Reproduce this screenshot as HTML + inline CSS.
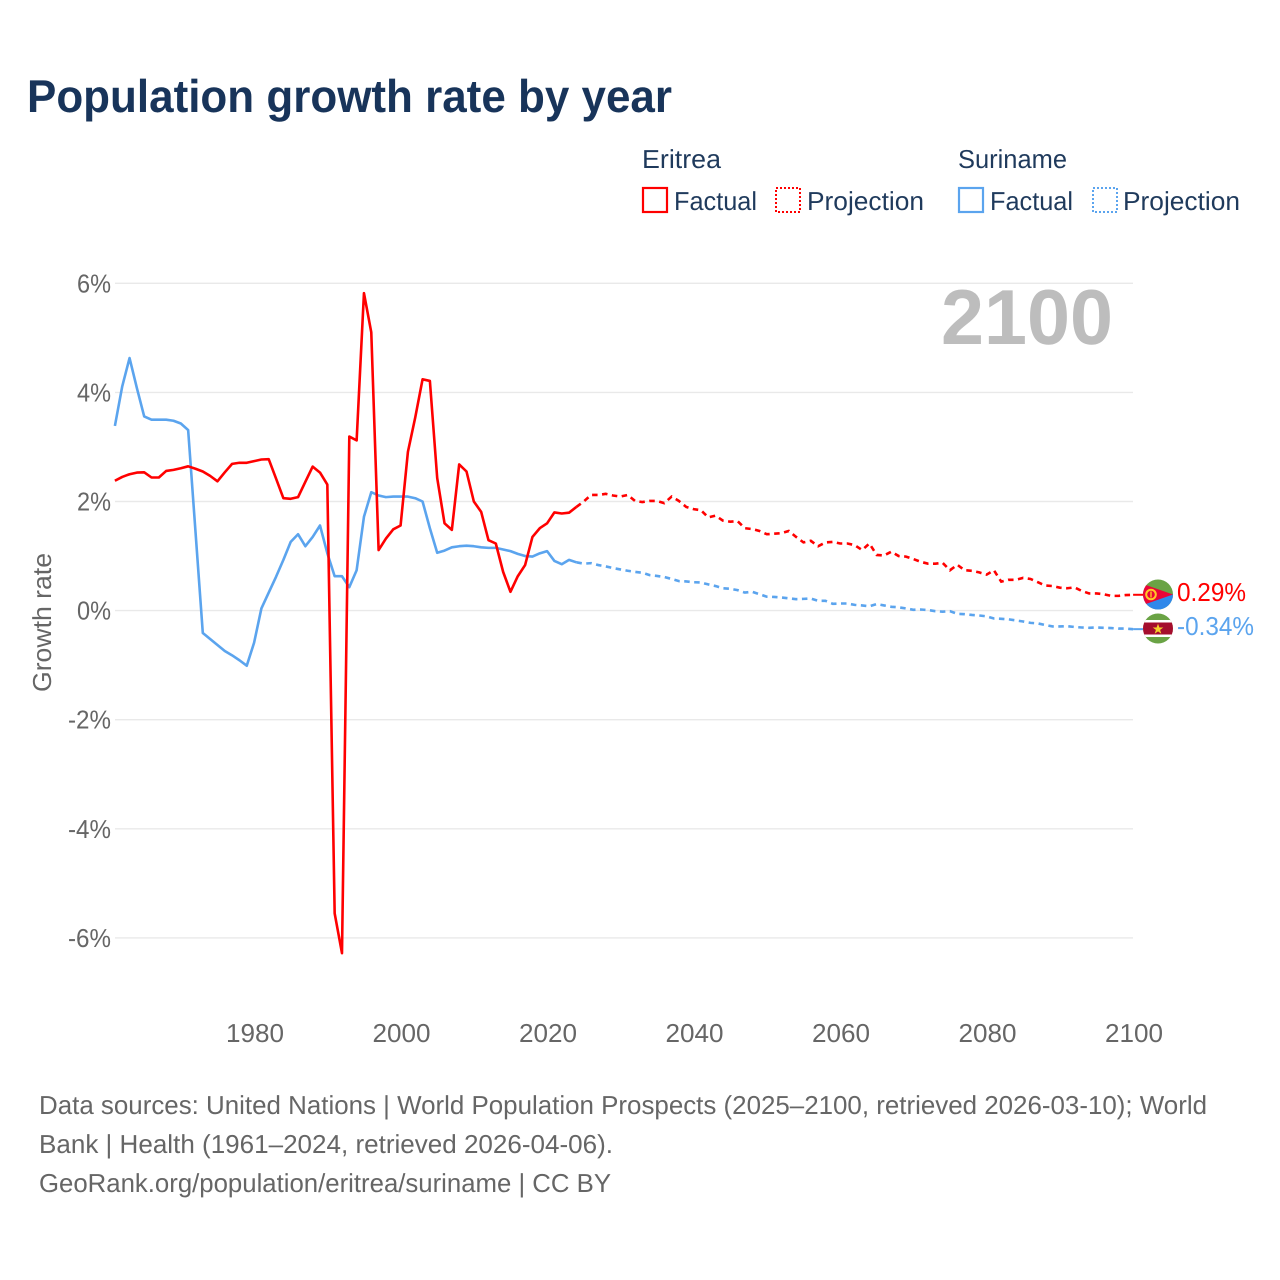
<!DOCTYPE html>
<html lang="en">
<head>
<meta charset="utf-8">
<title>Population growth rate by year</title>
<style>
html,body{margin:0;padding:0;background:#fff;width:1280px;height:1280px;overflow:hidden}
svg{display:block}
text{font-family:"Liberation Sans",sans-serif;text-rendering:geometricPrecision}
</style>
</head>
<body>
<svg id="chart" xmlns="http://www.w3.org/2000/svg" width="1280" height="1280" viewBox="0 0 1280 1280">
  <rect width="1280" height="1280" fill="#fff"/>
  <text x="27" y="112" font-size="46" font-weight="700" fill="#18345a" textLength="645" lengthAdjust="spacingAndGlyphs">Population growth rate by year</text>

  <g font-size="26" fill="#1f3a5c">
    <text x="642" y="168" textLength="79" lengthAdjust="spacingAndGlyphs">Eritrea</text>
    <text x="958" y="168" textLength="109" lengthAdjust="spacingAndGlyphs">Suriname</text>
    <rect x="643" y="188" width="24" height="24" fill="none" stroke="#ff0000" stroke-width="2.2"/>
    <text x="674" y="210" textLength="83" lengthAdjust="spacingAndGlyphs">Factual</text>
    <rect x="776" y="188" width="24" height="24" fill="none" stroke="#ff0000" stroke-width="2" stroke-dasharray="2 2"/>
    <text x="807" y="210" textLength="117" lengthAdjust="spacingAndGlyphs">Projection</text>
    <rect x="959" y="188" width="24" height="24" fill="none" stroke="#5ba4ee" stroke-width="2.2"/>
    <text x="990" y="210" textLength="83" lengthAdjust="spacingAndGlyphs">Factual</text>
    <rect x="1093" y="188" width="24" height="24" fill="none" stroke="#5ba4ee" stroke-width="2" stroke-dasharray="2 2"/>
    <text x="1123" y="210" textLength="117" lengthAdjust="spacingAndGlyphs">Projection</text>
  </g>

  <g id="grid"></g>
  <g id="yTicks"></g>
  <g id="xTicks"></g>

  <text transform="translate(51,622.5) rotate(-90)" text-anchor="middle" font-size="26" fill="#666" textLength="139" lengthAdjust="spacingAndGlyphs">Growth rate</text>
  <text x="941" y="344" font-size="78" font-weight="700" fill="#bdbdbd" textLength="172" lengthAdjust="spacingAndGlyphs">2100</text>

  <g id="series"></g>

  <defs>
    <clipPath id="clipEritrea"><circle cx="1158" cy="594.5" r="15"/></clipPath>
    <clipPath id="clipSuriname"><circle cx="1158" cy="628.5" r="15"/></clipPath>
  </defs>

  <g clip-path="url(#clipEritrea)">
    <rect x="1143" y="579" width="30" height="31" fill="#6aa345"/>
    <rect x="1143" y="594.5" width="30" height="16" fill="#2f88ea"/>
    <polygon points="1143,584 1173,594.5 1143,605" fill="#ea0437"/>
    <circle cx="1151" cy="594.5" r="4.8" fill="none" stroke="#ffc726" stroke-width="2"/>
    <rect x="1150.3" y="591.5" width="1.4" height="6" fill="#ffc726"/>
  </g>
  <g clip-path="url(#clipSuriname)">
    <rect x="1143" y="613" width="30" height="31" fill="#6aa345"/>
    <rect x="1143" y="620" width="30" height="17" fill="#fff"/>
    <rect x="1143" y="622.5" width="30" height="12" fill="#a50e2d"/>
    <polygon points="1158,623.6 1159.4,627.5 1163.3,627.5 1160.1,629.9 1161.3,633.8 1158,631.4 1154.7,633.8 1155.9,629.9 1152.7,627.5 1156.6,627.5" fill="#f6d02c"/>
  </g>

  <text x="1177" y="601" font-size="26" fill="#ff0000" textLength="69" lengthAdjust="spacingAndGlyphs">0.29%</text>
  <text x="1177" y="635" font-size="26" fill="#5ba4ee" textLength="77" lengthAdjust="spacingAndGlyphs">-0.34%</text>

  <g font-size="26" fill="#666">
    <text x="39" y="1114" textLength="1168" lengthAdjust="spacingAndGlyphs">Data sources: United Nations | World Population Prospects (2025–2100, retrieved 2026-03-10); World</text>
    <text x="39" y="1153" textLength="574" lengthAdjust="spacingAndGlyphs">Bank | Health (1961–2024, retrieved 2026-04-06).</text>
    <text x="39" y="1192" textLength="572" lengthAdjust="spacingAndGlyphs">GeoRank.org/population/eritrea/suriname | CC BY</text>
  </g>
</svg>

<script>
const xTickLabels = [1980, 2000, 2020, 2040, 2060, 2080, 2100];
const yTickValues = [6, 4, 2, 0, -2, -4, -6];

const factualFirstYear = 1961;
const projectionFirstYear = 2024;

const eritreaFactual = [
  2.38,2.45,2.50,2.53,2.535,2.44,2.44,2.56,2.58,2.61,
  2.645,2.60,2.55,2.47,2.37,2.535,2.69,2.71,2.71,2.74,
  2.77,2.775,2.42,2.06,2.05,2.08,2.36,2.64,2.53,2.31,
  -5.55,-6.28,3.19,3.12,5.82,5.10,1.11,1.32,1.49,1.56,
  2.91,3.54,4.24,4.21,2.43,1.60,1.48,2.68,2.55,2.00,
  1.81,1.29,1.23,0.71,0.345,0.63,0.835,1.35,1.51,1.60,
  1.80,1.78,1.795,1.90
];
const eritreaProjection = [
  1.90,2.00,2.12,2.12,2.14,2.11,2.09,2.12,2.01,1.99,
  2.01,2.01,1.97,2.09,2.01,1.90,1.86,1.84,1.71,1.74,
  1.65,1.63,1.64,1.51,1.495,1.46,1.40,1.41,1.42,1.46,
  1.35,1.25,1.28,1.18,1.25,1.26,1.23,1.23,1.20,1.11,
  1.23,1.02,1.01,1.08,1.00,0.99,0.945,0.895,0.86,0.86,
  0.875,0.74,0.84,0.74,0.73,0.70,0.66,0.74,0.53,0.565,
  0.565,0.60,0.58,0.52,0.46,0.45,0.42,0.41,0.425,0.36,
  0.315,0.315,0.30,0.27,0.27,0.285,0.29
];
const surinameFactual = [
  3.385,4.11,4.63,4.08,3.56,3.50,3.50,3.50,3.48,3.43,
  3.31,1.45,-0.41,-0.52,-0.63,-0.74,-0.82,-0.91,-1.01,-0.59,
  0.04,0.33,0.62,0.93,1.26,1.40,1.18,1.35,1.56,1.05,
  0.63,0.63,0.43,0.74,1.72,2.17,2.11,2.08,2.09,2.09,
  2.09,2.06,2.00,1.51,1.06,1.10,1.16,1.18,1.19,1.18,
  1.16,1.15,1.15,1.12,1.09,1.04,1.00,0.99,1.05,1.09,
  0.91,0.85,0.93,0.885
];
const surinameProjection = [
  0.885,0.86,0.87,0.835,0.81,0.78,0.755,0.73,0.71,0.695,
  0.65,0.635,0.615,0.58,0.54,0.535,0.52,0.515,0.48,0.45,
  0.41,0.40,0.375,0.33,0.345,0.30,0.255,0.25,0.24,0.225,
  0.21,0.215,0.22,0.18,0.18,0.125,0.13,0.13,0.105,0.095,
  0.08,0.12,0.095,0.07,0.06,0.04,0.015,0.02,0.01,-0.01,
  -0.02,-0.01,-0.06,-0.065,-0.08,-0.09,-0.105,-0.145,-0.15,-0.16,
  -0.18,-0.20,-0.225,-0.235,-0.265,-0.29,-0.29,-0.285,-0.30,-0.31,
  -0.315,-0.31,-0.315,-0.32,-0.33,-0.33,-0.34
];

const SVGNS = 'http://www.w3.org/2000/svg';
const xAxis = {year0: 1961, year1: 2100, px0: 114.9, px1: 1133.1};
const yAxis = {val0: 6, val1: -6, px0: 283.3, px1: 937.9};
const gridLeft = 115;
const gridRight = 1133;
const xLabelOffset = 0.9;
const RED = '#ff0000';
const BLUE = '#5ba4ee';
const LINE_WIDTH = '2.6';
const DASHES = '5.5 4.5';

function xScale(year) {
  return xAxis.px0 + (year - xAxis.year0) * (xAxis.px1 - xAxis.px0) / (xAxis.year1 - xAxis.year0);
}
function yScale(value) {
  return yAxis.px0 + (value - yAxis.val0) * (yAxis.px1 - yAxis.px0) / (yAxis.val1 - yAxis.val0);
}
function toPoints(values, firstYear) {
  return values.map(function (v, i) {
    return xScale(firstYear + i).toFixed(2) + ',' + yScale(v).toFixed(2);
  }).join(' ');
}

const gridGroup = document.getElementById('grid');
const yTickGroup = document.getElementById('yTicks');
yTickValues.forEach(function (v) {
  const line = document.createElementNS(SVGNS, 'line');
  
  
  line.setAttribute('x1', gridLeft);
  line.setAttribute('x2', gridRight);
  line.setAttribute('y1', yScale(v));
  line.setAttribute('y2', yScale(v));
  line.setAttribute('stroke', '#e9e9e9');
  line.setAttribute('stroke-width', '1.4');
  gridGroup.appendChild(line);

  const label = document.createElementNS(SVGNS, 'text');
  
  
  label.setAttribute('x', 111);
  label.setAttribute('y', yScale(v) + 9);
  label.setAttribute('text-anchor', 'end');
  label.setAttribute('font-size', '26');
  label.setAttribute('fill', '#666');
  label.setAttribute('textLength', v < 0 ? 43 : 34);
  label.setAttribute('lengthAdjust', 'spacingAndGlyphs');
  label.textContent = v + '%';
  yTickGroup.appendChild(label);
});

const xTickGroup = document.getElementById('xTicks');
xTickLabels.forEach(function (year) {
  const label = document.createElementNS(SVGNS, 'text');
  
  
  label.setAttribute('x', xScale(year) + xLabelOffset);
  label.setAttribute('y', 1042);
  label.setAttribute('text-anchor', 'middle');
  label.setAttribute('font-size', '26');
  label.setAttribute('fill', '#666');
  label.setAttribute('textLength', 58);
  label.setAttribute('lengthAdjust', 'spacingAndGlyphs');
  label.textContent = year;
  xTickGroup.appendChild(label);
});

const seriesGroup = document.getElementById('series');

const surinameProjectionLine = document.createElementNS(SVGNS, 'polyline');


surinameProjectionLine.setAttribute('points', toPoints(surinameProjection, projectionFirstYear));
surinameProjectionLine.setAttribute('fill', 'none');
surinameProjectionLine.setAttribute('stroke', BLUE);
surinameProjectionLine.setAttribute('stroke-width', LINE_WIDTH);
surinameProjectionLine.setAttribute('stroke-dasharray', DASHES);
seriesGroup.appendChild(surinameProjectionLine);

const surinameFactualLine = document.createElementNS(SVGNS, 'polyline');


surinameFactualLine.setAttribute('points', toPoints(surinameFactual, factualFirstYear));
surinameFactualLine.setAttribute('fill', 'none');
surinameFactualLine.setAttribute('stroke', BLUE);
surinameFactualLine.setAttribute('stroke-width', LINE_WIDTH);
surinameFactualLine.setAttribute('stroke-linejoin', 'round');
seriesGroup.appendChild(surinameFactualLine);

const eritreaFactualLine = document.createElementNS(SVGNS, 'polyline');


eritreaFactualLine.setAttribute('points', toPoints(eritreaFactual, factualFirstYear));
eritreaFactualLine.setAttribute('fill', 'none');
eritreaFactualLine.setAttribute('stroke', RED);
eritreaFactualLine.setAttribute('stroke-width', LINE_WIDTH);
eritreaFactualLine.setAttribute('stroke-linejoin', 'round');
seriesGroup.appendChild(eritreaFactualLine);

const eritreaProjectionLine = document.createElementNS(SVGNS, 'polyline');


eritreaProjectionLine.setAttribute('points', toPoints(eritreaProjection, projectionFirstYear));
eritreaProjectionLine.setAttribute('fill', 'none');
eritreaProjectionLine.setAttribute('stroke', RED);
eritreaProjectionLine.setAttribute('stroke-width', LINE_WIDTH);
eritreaProjectionLine.setAttribute('stroke-dasharray', DASHES);
seriesGroup.appendChild(eritreaProjectionLine);

const lastYear = projectionFirstYear + eritreaProjection.length - 1;

const eritreaLeader = document.createElementNS(SVGNS, 'line');


eritreaLeader.setAttribute('x1', xScale(lastYear));
eritreaLeader.setAttribute('x2', 1144);
eritreaLeader.setAttribute('y1', yScale(eritreaProjection[eritreaProjection.length - 1]));
eritreaLeader.setAttribute('y2', yScale(eritreaProjection[eritreaProjection.length - 1]));
eritreaLeader.setAttribute('stroke', RED);
eritreaLeader.setAttribute('stroke-width', '2');
seriesGroup.appendChild(eritreaLeader);

const surinameLeader = document.createElementNS(SVGNS, 'line');


surinameLeader.setAttribute('x1', xScale(lastYear));
surinameLeader.setAttribute('x2', 1144);
surinameLeader.setAttribute('y1', yScale(surinameProjection[surinameProjection.length - 1]));
surinameLeader.setAttribute('y2', yScale(surinameProjection[surinameProjection.length - 1]));
surinameLeader.setAttribute('stroke', BLUE);
surinameLeader.setAttribute('stroke-width', '2');
seriesGroup.appendChild(surinameLeader);
</script>
</body>
</html>
